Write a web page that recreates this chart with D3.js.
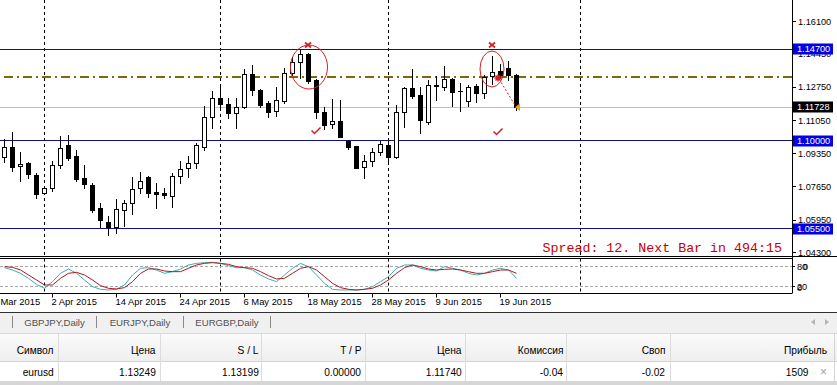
<!DOCTYPE html>
<html><head><meta charset="utf-8">
<script src="https://cdn.jsdelivr.net/npm/d3@7"></script>
<style>
html,body{margin:0;padding:0;background:#fff;overflow:hidden}
svg{display:block}
</style></head><body>
<svg id="c" width="837" height="385"></svg>
<script>
// ---------------- DATA ----------------
const firstBarDate = "2015-03-25";
const opens  = [1.0918,1.0969,1.0872,1.0887,1.0825,1.0733,1.0759,1.0877,1.0979,1.0923,1.0810,1.0774,1.0657,1.0585,1.0559,1.0646,1.0682,1.0759,1.0815,1.0738,1.0733,1.0718,1.0820,1.0861,1.0887,1.0969,1.1122,1.1220,1.1189,1.1143,1.1174,1.1342,1.1261,1.1194,1.1153,1.1204,1.1348,1.1404,1.1445,1.1312,1.1148,1.1086,1.1102,1.0999,1.0974,1.0866,1.0897,1.0943,1.0979,1.0918,1.1148,1.1271,1.1235,1.1097,1.1287,1.1276,1.1317,1.1255,1.1204,1.1281,1.1245,1.1332,1.1358,1.1373,1.1337];
const highs  = [1.1010,1.1046,1.0943,1.0892,1.0836,1.0764,1.0897,1.1025,1.1030,1.0953,1.0877,1.0785,1.0682,1.0616,1.0703,1.0698,1.0815,1.0841,1.0818,1.0785,1.0759,1.0836,1.0897,1.0923,1.0989,1.1179,1.1255,1.1291,1.1220,1.1220,1.1368,1.1388,1.1266,1.1204,1.1276,1.1373,1.1429,1.1470,1.1450,1.1317,1.1174,1.1214,1.1209,1.1005,1.0974,1.0928,1.0964,1.0999,1.1005,1.1184,1.1276,1.1368,1.1276,1.1312,1.1332,1.1383,1.1320,1.1296,1.1286,1.1291,1.1337,1.1434,1.1394,1.1409,1.1342];
const lows   = [1.0892,1.0846,1.0795,1.0810,1.0708,1.0733,1.0744,1.0861,1.0902,1.0795,1.0759,1.0636,1.0559,1.0518,1.0529,1.0564,1.0626,1.0733,1.0713,1.0657,1.0708,1.0662,1.0784,1.0815,1.0861,1.0953,1.1066,1.1158,1.1117,1.1066,1.1168,1.1235,1.1174,1.1122,1.1127,1.1194,1.1337,1.1322,1.1296,1.1117,1.1061,1.1066,1.1020,1.0959,1.0861,1.0810,1.0872,1.0928,1.0887,1.0913,1.1071,1.1220,1.1040,1.1086,1.1209,1.1261,1.1179,1.1153,1.1179,1.1199,1.1220,1.1291,1.1322,1.1312,1.1158];
const closes = [1.0969,1.0866,1.0882,1.0831,1.0728,1.0759,1.0877,1.0964,1.0913,1.0805,1.0779,1.0646,1.0595,1.0559,1.0651,1.0682,1.0754,1.0795,1.0733,1.0728,1.0723,1.0820,1.0856,1.0887,1.0979,1.1122,1.1220,1.1189,1.1143,1.1174,1.1342,1.1261,1.1184,1.1148,1.1209,1.1348,1.1404,1.1445,1.1307,1.1148,1.1081,1.1102,1.1020,1.0969,1.0861,1.0897,1.0943,1.0984,1.0918,1.1148,1.1271,1.1230,1.1107,1.1286,1.1283,1.1317,1.1250,1.1253,1.1276,1.1245,1.1327,1.1353,1.1337,1.1337,1.11728];
const stochMain   = [77,70,60,45,27,15,35,60,73,60,40,20,12,10,12,25,55,75,77,70,60,65,73,85,90,92,93,90,83,77,77,70,55,43,35,55,75,90,80,55,30,12,10,10,10,12,20,35,50,75,85,85,75,70,67,80,75,70,60,55,60,70,75,70,45];
const stochSignal = [80,78,70,55,40,25,25,45,60,63,55,40,23,15,13,17,35,60,73,73,67,65,65,75,85,90,92,90,87,80,77,75,65,53,43,45,60,75,80,70,50,30,17,12,10,12,15,25,40,60,77,85,80,73,70,72,73,70,65,60,60,65,70,70,60];
const priceTicks = [1.161,1.1445,1.1275,1.1105,1.0935,1.0765,1.0595,1.043];
const levelLines = [1.147,1.100,1.055];
const orderPrice = 1.13249;
const bidPrice = 1.11728;
const oscLevels = [80,20];
const timeTickDates = ["2015-03-23","2015-04-02","2015-04-14","2015-04-24","2015-05-06","2015-05-18","2015-05-28","2015-06-09","2015-06-19"];
const separatorDates = ["2015-04-01","2015-05-01","2015-06-01","2015-07-01"];
const crossMarks = [{date:"2015-05-18",price:1.1491},{date:"2015-06-18",price:1.1491}];
const checkMarks = [{date:"2015-05-19",price:1.1053},{date:"2015-06-19",price:1.1048}];
const circleMarks = [{date:"2015-05-18",price:1.1378},{date:"2015-06-18",price:1.1368}];
const starMark = {date:"2015-06-19",price:1.1322};
const arrowMark = {date:"2015-06-23",price:1.11728};
const spreadText = "Spread: 12. Next Bar in 494:15";
const tabs = ["GBPJPY,Daily","EURJPY,Daily","EURGBP,Daily"];
const tableHeaders = ["Символ","Цена","S / L","T / P","Цена","Комиссия","Своп","Прибыль"];
const tableRow = ["eurusd","1.13249","1.13199","0.00000","1.11740","-0.04","-0.02","1509"];

// ---------------- LAYOUT ----------------
const W=837,H=385, plotRight=792, mainBottom=256, oscTop=258.5, oscBottom=293.5;
const svg=d3.select("#c");
const parse=d3.utcParse("%Y-%m-%d"), fmt=d3.utcFormat("%-d %b %Y");
const DAY=864e5;
const n=closes.length;
const first=parse(firstBarDate);
const bars=[];
for(let t=+first; bars.length<n; t+=DAY){const d=new Date(t),w=d.getUTCDay(); if(w!==0&&w!==6) bars.push(d);}
const lastBar=bars[n-1];
function dateIndex(s){
  const d=parse(s);
  if(d>lastBar) return (n-1)+Math.round((d-lastBar)/DAY);
  let k=0; const dir=d<first?-1:1;
  let t=+first;
  while(t!==+d){t+=dir*DAY; const w=new Date(t).getUTCDay(); if(w!==0&&w!==6) k+=dir; else if(t===+d) k+=dir;}
  return k;
}
const x=d3.scaleLinear().domain([0,1]).range([4.5,12.5]);
const y=d3.scaleLinear().domain([1.161,1.043]).range([21.7,252.3]);
const yo=d3.scaleLinear().domain([0,100]).range([293.3,260]);
const snap=v=>Math.round(v-0.5)+0.5;

svg.append("rect").attr("width",W).attr("height",H).attr("fill","#fff");
const defs=svg.append("defs");
defs.append("clipPath").attr("id","cm").append("rect").attr("x",0).attr("y",0).attr("width",plotRight).attr("height",mainBottom);
defs.append("clipPath").attr("id","co").append("rect").attr("x",0).attr("y",oscTop+0.5).attr("width",plotRight).attr("height",oscBottom-oscTop-1);

const main=svg.append("g").attr("clip-path","url(#cm)");
separatorDates.forEach(s=>{
  const xx=snap(x(dateIndex(s)));
  main.append("line").attr("x1",xx).attr("x2",xx).attr("y1",0).attr("y2",mainBottom).attr("stroke","#000").attr("stroke-dasharray","3,3");
});
main.append("line").attr("x1",0).attr("x2",plotRight).attr("y1",snap(y(bidPrice))).attr("y2",snap(y(bidPrice))).attr("stroke","#c0c0c0");
levelLines.forEach(p=>{
  main.append("line").attr("x1",0).attr("x2",plotRight).attr("y1",snap(y(p))).attr("y2",snap(y(p))).attr("stroke","#101088");
});
main.append("line").attr("x1",4).attr("x2",plotRight).attr("y1",Math.round(y(orderPrice))).attr("y2",Math.round(y(orderPrice)))
  .attr("stroke","#80680a").attr("stroke-width",2).attr("stroke-dasharray","9,4,2,4");

const cg=main.append("g");
for(let i=0;i<n;i++){
  const cx=x(i), o=opens[i], c=closes[i];
  cg.append("line").attr("x1",cx).attr("x2",cx).attr("y1",Math.round(y(highs[i]))).attr("y2",Math.round(y(lows[i]))+1).attr("stroke","#000");
  const top=Math.round(y(Math.max(o,c))), bot=Math.round(y(Math.min(o,c)));
  if(c>=o){
    cg.append("rect").attr("x",cx-2).attr("y",top+0.5).attr("width",4).attr("height",Math.max(1,bot-top)).attr("fill","#fff").attr("stroke","#000");
  } else {
    cg.append("rect").attr("x",cx-2.5).attr("y",top).attr("width",5).attr("height",Math.max(1,bot-top+1)).attr("fill","#000");
  }
}
const red="#d42020";
circleMarks.forEach((m,k)=>{
  main.append("ellipse").attr("cx",x(dateIndex(m.date))+ (k===0?0.5:-0.5)).attr("cy",y(m.price)).attr("rx",k===0?18.5:12).attr("ry",k===0?22:18)
    .attr("fill","none").attr("stroke",red).attr("stroke-width",1);
});
crossMarks.forEach(m=>{
  const cx=x(dateIndex(m.date))-0.5, cy=y(m.price);
  main.append("path").attr("d",`M${cx-3},${cy-2.5}L${cx+3},${cy+2.5}M${cx-3},${cy+2.5}L${cx+3},${cy-2.5}`).attr("stroke",red).attr("stroke-width",1.8).attr("fill","none");
});
checkMarks.forEach((m,k)=>{
  const cx=x(dateIndex(m.date))-(k===0?0:2), cy=y(m.price);
  main.append("path").attr("d",`M${cx-5},${cy}L${cx-2},${cy+3}L${cx+4},${cy-3}`).attr("stroke",red).attr("stroke-width",1.5).attr("fill","none");
});
{
  const sx=x(dateIndex(starMark.date))-2.5, sy=y(starMark.price);
  const ax=x(dateIndex(arrowMark.date))-1.5, ay=y(arrowMark.price);
  main.append("line").attr("x1",sx+1).attr("y1",sy+1).attr("x2",ax).attr("y2",ay-2).attr("stroke",red).attr("stroke-dasharray","2,2");
  main.append("path").attr("d",`M${sx-3.5},${sy}L${sx+3.5},${sy}M${sx},${sy-3.5}L${sx},${sy+3.5}M${sx-2.5},${sy-2.5}L${sx+2.5},${sy+2.5}M${sx-2.5},${sy+2.5}L${sx+2.5},${sy-2.5}`).attr("stroke",red).attr("stroke-width",1.5);
  main.append("path").attr("d",`M${ax},${ay}L${ax+5},${ay-4}L${ax+5},${ay+4}Z`).attr("fill","#e0a820");
}
svg.append("text").attr("x",542.5).attr("y",251.5).text(spreadText)
  .attr("font-family","Liberation Mono, Courier New, monospace").attr("font-size",13.3).attr("fill","#c80000");

svg.append("line").attr("x1",0).attr("x2",W).attr("y1",mainBottom+0.5).attr("y2",mainBottom+0.5).attr("stroke","#000");
svg.append("line").attr("x1",0).attr("x2",plotRight).attr("y1",oscTop).attr("y2",oscTop).attr("stroke","#000");
svg.append("line").attr("x1",0).attr("x2",plotRight).attr("y1",oscBottom).attr("y2",oscBottom).attr("stroke","#000");
svg.append("line").attr("x1",plotRight+0.5).attr("x2",plotRight+0.5).attr("y1",0).attr("y2",oscBottom).attr("stroke","#000");

const axFont="Liberation Sans, Arial, sans-serif";
const ra=svg.append("g");
priceTicks.forEach(p=>{
  const yy=y(p);
  ra.append("line").attr("x1",plotRight).attr("x2",plotRight+4).attr("y1",snap(yy)).attr("y2",snap(yy)).attr("stroke","#000");
  ra.append("text").attr("x",798).attr("y",yy+3.3).text(p.toFixed(5)).attr("font-family",axFont).attr("font-size",9.2).attr("fill","#000");
});
function tag(p,bg){
  const yy=Math.round(y(p));
  ra.append("rect").attr("x",plotRight+1).attr("y",yy-5.5).attr("width",40).attr("height",11).attr("fill",bg);
  ra.append("text").attr("x",797).attr("y",yy+3.3).text(p.toFixed(5)).attr("font-family",axFont).attr("font-size",9.2).attr("fill","#fff");
}
levelLines.forEach(p=>tag(p,"#0000e8"));
tag(bidPrice,"#000");

const og=svg.append("g").attr("clip-path","url(#co)");
separatorDates.forEach(s=>{
  const xx=snap(x(dateIndex(s)));
  og.append("line").attr("x1",xx).attr("x2",xx).attr("y1",oscTop).attr("y2",oscBottom).attr("stroke","#000").attr("stroke-dasharray","3,3");
});
oscLevels.forEach(v=>{
  og.append("line").attr("x1",0).attr("x2",plotRight).attr("y1",snap(yo(v))).attr("y2",snap(yo(v))).attr("stroke","#a8a8a8").attr("stroke-dasharray","3,2");
});
const ln=d3.line().x((d,i)=>x(i)).y(d=>yo(d)).curve(d3.curveLinear);
og.append("path").attr("d",ln(stochMain)).attr("fill","none").attr("stroke","#35b3b0").attr("stroke-width",1);
og.append("path").attr("d",ln(stochSignal)).attr("fill","none").attr("stroke","#b8141e").attr("stroke-width",1);
oscLevels.forEach(v=>{
  svg.append("text").attr("x",797).attr("y",yo(v)+3.3).text(v).attr("font-family",axFont).attr("font-size",9.2).attr("fill","#000");
  svg.append("line").attr("x1",plotRight).attr("x2",plotRight+3).attr("y1",snap(yo(v))).attr("y2",snap(yo(v))).attr("stroke","#000");
});
svg.append("text").attr("x",803).attr("y",yo(80)+3.3).text("0").attr("font-family",axFont).attr("font-size",9.2);
svg.append("text").attr("x",797).attr("y",yo(20)+4.5).text("0").attr("font-family",axFont).attr("font-size",9.2);

timeTickDates.forEach(s=>{
  const xx=x(dateIndex(s));
  svg.append("line").attr("x1",snap(xx)).attr("x2",snap(xx)).attr("y1",oscBottom).attr("y2",oscBottom+4).attr("stroke","#000");
  svg.append("text").attr("x",xx-1).attr("y",305).text(fmt(parse(s))).attr("font-family",axFont).attr("font-size",9.4).attr("fill","#000");
});
svg.append("line").attr("x1",0).attr("x2",W).attr("y1",312.5).attr("y2",312.5).attr("stroke","#303030");

const uiFont="Liberation Sans, Arial, sans-serif";
svg.append("rect").attr("x",0).attr("y",313).attr("width",W).attr("height",20).attr("fill","#f0f0f0");
const sepX=[12.5,96.5,183.5,270.5];
sepX.forEach(v=>svg.append("line").attr("x1",v).attr("x2",v).attr("y1",316).attr("y2",328).attr("stroke","#8a8a8a"));
tabs.forEach((t,i)=>{
  svg.append("text").attr("x",(sepX[i]+sepX[i+1])/2).attr("y",325.5).attr("text-anchor","middle").text(t)
    .attr("font-family",uiFont).attr("font-size",9.6).attr("fill","#505050");
});
svg.append("path").attr("d","M811,322L815,319L815,325Z").attr("fill","#b4b4b4");
svg.append("path").attr("d","M829,322L825,319L825,325Z").attr("fill","#b4b4b4");

const hg=defs.append("linearGradient").attr("id","hg").attr("x1",0).attr("x2",0).attr("y1",0).attr("y2",1);
hg.append("stop").attr("offset",0).attr("stop-color","#fbfbfb");
hg.append("stop").attr("offset",1).attr("stop-color","#eeeeee");
svg.append("rect").attr("x",0).attr("y",333).attr("width",W).attr("height",29).attr("fill","url(#hg)");
svg.append("line").attr("x1",0).attr("x2",W).attr("y1",333.5).attr("y2",333.5).attr("stroke","#d8d8d8");
svg.append("rect").attr("x",0).attr("y",362).attr("width",W).attr("height",19).attr("fill","#fff");
svg.append("line").attr("x1",0).attr("x2",W).attr("y1",361.5).attr("y2",361.5).attr("stroke","#d4d4d4");
svg.append("rect").attr("x",0).attr("y",381).attr("width",W).attr("height",4).attr("fill","#d6d6d6");
svg.append("line").attr("x1",834.5).attr("x2",834.5).attr("y1",333).attr("y2",381).attr("stroke","#d4d4d4");
const colB=[58.5,160.5,261.5,365.5,465.5,566.5,670.5];
colB.forEach(v=>svg.append("line").attr("x1",v).attr("x2",v).attr("y1",334).attr("y2",381).attr("stroke","#dcdcdc"));
const rightEdges=[53.5,155.5,258.5,361.5,461.5,563.5,665.5,827];
tableHeaders.forEach((t,i)=>svg.append("text").attr("x",rightEdges[i]).attr("y",354).attr("text-anchor","end").text(t)
  .attr("font-family",uiFont).attr("font-size",10.2).attr("fill","#000"));
const rowEdges=[53.8,155.8,258.8,361,461.8,563,665,808.5];
tableRow.forEach((t,i)=>svg.append("text").attr("x",rowEdges[i]).attr("y",375.5).attr("text-anchor","end").text(t)
  .attr("font-family",uiFont).attr("font-size",10.2).attr("fill","#000"));
svg.append("text").attr("x",823.5).attr("y",375.5).attr("text-anchor","middle").text("×").attr("font-family",uiFont).attr("font-size",12).attr("fill","#a0a0a0");
</script>
</body></html>
